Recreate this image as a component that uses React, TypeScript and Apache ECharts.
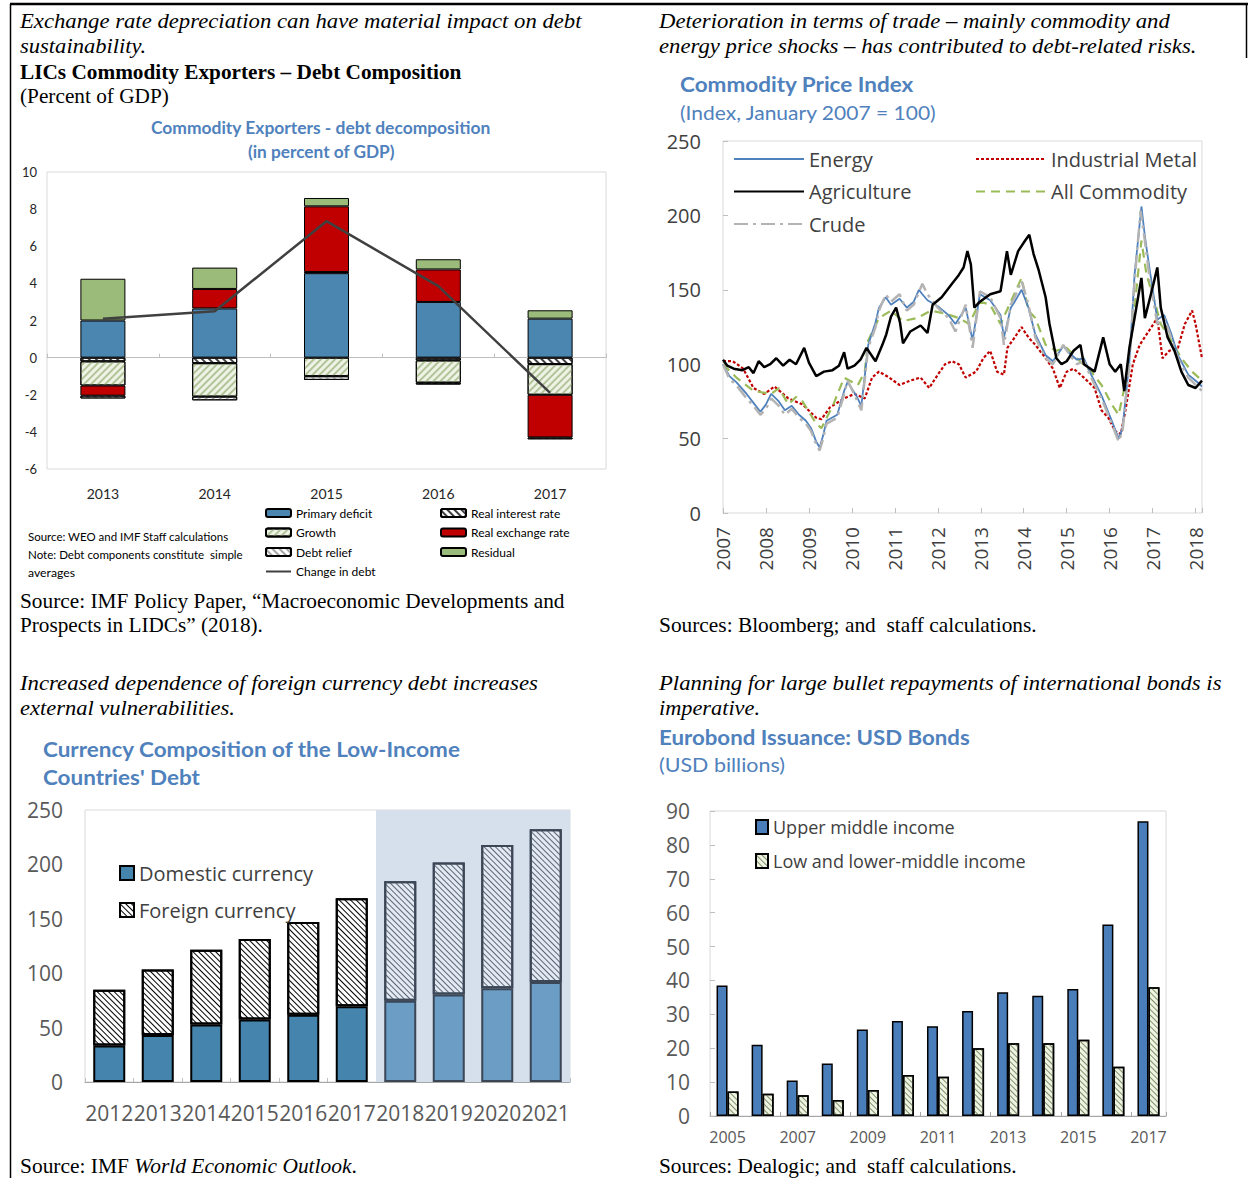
import React, { useEffect, useRef } from 'react';
import * as echarts from 'echarts';

const W = 1248;
const H = 1178;

// ---------- Panel 1: LICs Commodity Exporters – Debt Composition ----------
const debtYears = ['2013', '2014', '2015', '2016', '2017'];
const primaryDeficit = [2.0, 2.65, 4.55, 3.0, 2.1];
const realInterestRate = [-0.2, -0.3, 0.06, -0.15, -0.35];
const growth = [-1.3, -1.8, -1.0, -1.2, -1.65];
const realExchangeRate = [-0.55, 1.05, 3.54, 1.75, -2.3];
const debtRelief = [-0.15, -0.2, -0.2, -0.1, -0.1];
const residual = [2.25, 1.15, 0.45, 0.55, 0.45];
const changeInDebt = [2.1, 2.5, 7.35, 3.85, -1.9];

// ---------- Panel 2: Commodity Price Index (Jan 2007 = 100) ----------
const energy: [number, number][] = [
  [2007.0, 100], [2007.15, 92], [2007.31, 88], [2007.55, 80], [2007.71, 74], [2007.87, 68], [2008.0, 73], [2008.12, 80],
  [2008.3, 75], [2008.44, 69], [2008.6, 72], [2008.77, 66], [2008.93, 62], [2009.05, 57], [2009.17, 48], [2009.25, 44],
  [2009.33, 52], [2009.41, 62], [2009.66, 66], [2009.82, 82], [2009.9, 88], [2010.1, 79], [2010.22, 72], [2010.3, 92],
  [2010.38, 113], [2010.55, 128], [2010.63, 138], [2010.79, 145], [2010.91, 140], [2011.11, 144], [2011.28, 138],
  [2011.44, 142], [2011.56, 150], [2011.64, 147], [2011.76, 143], [2012.0, 139], [2012.25, 133], [2012.41, 127],
  [2012.65, 138], [2012.81, 116], [2012.98, 147], [2013.22, 143], [2013.46, 133], [2013.54, 118], [2013.7, 138],
  [2013.79, 142], [2013.95, 150], [2014.11, 138], [2014.27, 120], [2014.51, 106], [2014.68, 102], [2014.92, 112],
  [2015.08, 107], [2015.24, 103], [2015.4, 104], [2015.57, 93], [2015.81, 79], [2016.05, 62], [2016.21, 50],
  [2016.3, 57], [2016.46, 102], [2016.58, 160], [2016.74, 206], [2016.82, 186], [2016.94, 162], [2017.11, 130],
  [2017.27, 133], [2017.43, 121], [2017.59, 106], [2017.83, 93], [2018.08, 87], [2018.15, 85],
];
const agriculture: [number, number][] = [
  [2007.0, 103], [2007.1, 99], [2007.25, 97], [2007.45, 96], [2007.6, 98], [2007.71, 94], [2007.83, 102], [2007.96, 98],
  [2008.1, 100], [2008.24, 104], [2008.4, 99], [2008.55, 103], [2008.7, 100], [2008.89, 111], [2009.0, 101],
  [2009.17, 92], [2009.35, 95], [2009.55, 96], [2009.7, 99], [2009.82, 108], [2009.9, 97], [2010.06, 99],
  [2010.2, 103], [2010.34, 111], [2010.55, 102], [2010.71, 113], [2010.8, 120], [2010.91, 132], [2011.03, 138],
  [2011.12, 128], [2011.19, 114], [2011.36, 122], [2011.6, 126], [2011.76, 121], [2011.88, 140], [2012.09, 145],
  [2012.33, 154], [2012.49, 160], [2012.6, 165], [2012.69, 176], [2012.77, 167], [2012.85, 138], [2012.98, 142],
  [2013.22, 147], [2013.46, 149], [2013.61, 176], [2013.7, 160], [2013.87, 176], [2014.03, 183], [2014.13, 187],
  [2014.23, 174], [2014.35, 163], [2014.51, 145], [2014.6, 127], [2014.76, 104], [2014.88, 100], [2015.0, 102],
  [2015.16, 109], [2015.32, 113], [2015.4, 100], [2015.65, 95], [2015.85, 118], [2016.0, 100], [2016.13, 95],
  [2016.26, 100], [2016.34, 82], [2016.46, 111], [2016.58, 131], [2016.74, 158], [2016.82, 131], [2016.9, 140],
  [2017.02, 154], [2017.11, 165], [2017.19, 138], [2017.35, 118], [2017.51, 109], [2017.67, 95], [2017.83, 86],
  [2018.0, 84], [2018.15, 89],
];
const crude: [number, number][] = [
  [2007.0, 100], [2007.15, 90], [2007.31, 86], [2007.55, 77], [2007.71, 72], [2007.87, 66], [2008.0, 70], [2008.12, 77],
  [2008.3, 72], [2008.44, 66], [2008.6, 70], [2008.77, 64], [2008.93, 60], [2009.05, 55], [2009.17, 46], [2009.25, 42],
  [2009.33, 50], [2009.41, 60], [2009.66, 64], [2009.82, 80], [2009.9, 89], [2010.1, 77], [2010.22, 69], [2010.3, 90],
  [2010.38, 111], [2010.55, 125], [2010.63, 136], [2010.79, 147], [2010.91, 142], [2011.11, 147], [2011.28, 136],
  [2011.44, 140], [2011.64, 154], [2011.76, 147], [2012.0, 138], [2012.25, 131], [2012.41, 122], [2012.65, 140],
  [2012.81, 111], [2012.98, 149], [2013.22, 145], [2013.46, 131], [2013.54, 113], [2013.7, 140], [2013.79, 145],
  [2013.95, 156], [2014.11, 140], [2014.27, 118], [2014.51, 104], [2014.68, 100], [2014.92, 113], [2015.08, 106],
  [2015.24, 100], [2015.4, 102], [2015.57, 91], [2015.81, 77], [2016.05, 60], [2016.21, 48], [2016.3, 55],
  [2016.46, 100], [2016.58, 156], [2016.72, 203], [2016.82, 183], [2016.94, 156], [2017.11, 127], [2017.27, 131],
  [2017.43, 118], [2017.59, 104], [2017.83, 91], [2018.08, 84], [2018.15, 82],
];
const industrialMetal: [number, number][] = [
  [2007.0, 102], [2007.23, 102], [2007.47, 97], [2007.71, 84], [2007.96, 80], [2008.2, 85], [2008.52, 77], [2008.85, 73],
  [2009.17, 64], [2009.29, 63], [2009.49, 71], [2009.82, 77], [2010.06, 80], [2010.3, 77], [2010.47, 91], [2010.63, 95],
  [2010.87, 91], [2011.11, 86], [2011.36, 89], [2011.6, 91], [2011.8, 84], [2012.0, 93], [2012.17, 100], [2012.33, 102],
  [2012.49, 100], [2012.65, 91], [2012.89, 95], [2013.06, 104], [2013.22, 109], [2013.38, 95], [2013.54, 93],
  [2013.62, 111], [2013.79, 118], [2013.95, 125], [2014.11, 118], [2014.27, 113], [2014.51, 104], [2014.68, 97],
  [2014.84, 84], [2015.0, 95], [2015.16, 97], [2015.4, 91], [2015.65, 84], [2015.81, 69], [2015.97, 64], [2016.13, 55],
  [2016.26, 53], [2016.38, 71], [2016.54, 100], [2016.7, 113], [2016.86, 120], [2017.02, 127], [2017.11, 131],
  [2017.23, 104], [2017.39, 109], [2017.59, 111], [2017.75, 127], [2017.92, 136], [2018.0, 127], [2018.15, 104],
];
const allCommodity: [number, number][] = [
  [2007.0, 100], [2007.31, 91], [2007.71, 82], [2008.12, 80], [2008.3, 84], [2008.52, 73], [2008.7, 78], [2008.85, 75],
  [2009.17, 60], [2009.29, 57], [2009.57, 73], [2009.82, 91], [2010.14, 86], [2010.3, 95], [2010.38, 116], [2010.63, 131],
  [2010.91, 136], [2011.19, 129], [2011.52, 131], [2011.84, 136], [2012.17, 134], [2012.49, 131], [2012.73, 127],
  [2012.98, 142], [2013.22, 140], [2013.46, 127], [2013.7, 142], [2013.95, 158], [2014.11, 136], [2014.27, 131],
  [2014.51, 113], [2014.76, 109], [2015.0, 111], [2015.24, 104], [2015.57, 95], [2015.81, 86], [2016.05, 73],
  [2016.21, 66], [2016.38, 89], [2016.54, 127], [2016.74, 183], [2016.86, 160], [2017.02, 145], [2017.19, 127],
  [2017.43, 116], [2017.67, 104], [2017.92, 95], [2018.15, 89],
];
const priceYearStart = 2007;
const priceYearEnd = 2018.15;

// ---------- Panel 3: Currency composition ----------
const currencyYears = ['2012', '2013', '2014', '2015', '2016', '2017', '2018', '2019', '2020', '2021'];
const domesticCurrency = [33.6, 43.1, 52.9, 57.5, 61.7, 69.7, 74.6, 80.4, 86.2, 92];
const foreignCurrency = [51.1, 60.2, 68.7, 73.9, 85.3, 99.3, 110, 121.3, 131.7, 140.3];
const firstEstimateYear = '2018';

// ---------- Panel 4: Eurobond issuance ----------
const eurobondYears = ['2005', '2006', '2007', '2008', '2009', '2010', '2011', '2012', '2013', '2014', '2015', '2016', '2017'];
const upperMiddleIncome = [38.5, 21, 10.5, 15.5, 25.5, 28, 26.5, 31, 36.5, 35.5, 37.5, 56.5, 87];
const lowerMiddleIncome = [7.2, 6.6, 6.1, 4.7, 7.7, 12.1, 11.6, 20, 21.5, 21.5, 22.5, 14.5, 38];

// ---------- styling ----------
const SERIF = "'Liberation Serif', 'Times New Roman', serif";
const SANS = "'Open Sans', 'Noto Sans', sans-serif";
const CAL = "Lato, 'Open Sans', sans-serif";
const BLUE = '#4f81bd';

let measureCtx: CanvasRenderingContext2D | null = null;
function textWidth(text: string, font: string): number {
  if (!measureCtx) measureCtx = document.createElement('canvas').getContext('2d');
  if (!measureCtx) return 1;
  measureCtx.font = font;
  return measureCtx.measureText(text).width || 1;
}

function txt(x: number, y: number, text: string, font: string, fill: string, target?: number) {
  const sx = target ? target / textWidth(text, font) : 1;
  return {
    type: 'text',
    x,
    y,
    scaleX: sx,
    silent: true,
    style: { text, font, fill, align: 'left', verticalAlign: 'middle' },
  };
}

function stripes(color: string, dir: 1 | -1, gap = 3, width = 1) {
  return {
    symbol: 'rect',
    symbolSize: 1,
    color,
    dashArrayX: [1, 0],
    dashArrayY: [width, gap],
    rotation: (dir * Math.PI) / 4,
  };
}

const lineLegend = (name: string) => ({ name, itemStyle: { opacity: 0 } });

function buildOption(): any {
  const serifI = `italic 21px ${SERIF}`;
  const serifR = `21px ${SERIF}`;
  const serifB = `bold 21px ${SERIF}`;
  const titleB = `bold 21px ${CAL}`;
  const titleR = `20px ${CAL}`;
  const small = `12px ${CAL}`;

  const estIdx = currencyYears.indexOf(firstEstimateYear);

  const graphics: any[] = [
    { type: 'line', silent: true, shape: { x1: 10, y1: 4, x2: 1248, y2: 4 }, style: { stroke: '#000', lineWidth: 2.5 } },
    { type: 'line', silent: true, shape: { x1: 10.5, y1: 4, x2: 10.5, y2: 1178 }, style: { stroke: '#000', lineWidth: 1.5 } },
    { type: 'line', silent: true, shape: { x1: 1246.5, y1: 4, x2: 1246.5, y2: 58 }, style: { stroke: '#000', lineWidth: 1.5 } },
    // panel 1
    txt(20, 21, 'Exchange rate depreciation can have material impact on debt', serifI, '#000', 562),
    txt(20, 46, 'sustainability.', serifI, '#000', 126),
    txt(20, 72, 'LICs Commodity Exporters – Debt Composition', serifB, '#000', 442),
    txt(20, 96, '(Percent of GDP)', serifR, '#000', 149),
    txt(151, 128, 'Commodity Exporters - debt decomposition', `bold 17px ${CAL}`, BLUE, 340),
    txt(248, 152, '(in percent of GDP)', `bold 17px ${CAL}`, BLUE, 147),
    txt(28, 536, 'Source: WEO and IMF Staff calculations', small, '#000', 201),
    txt(28, 554, 'Note: Debt components constitute  simple', small, '#000', 215),
    txt(28, 573, 'averages', small, '#000', 47),
    txt(20, 601, 'Source: IMF Policy Paper, “Macroeconomic Developments and', serifR, '#000', 545),
    txt(20, 625, 'Prospects in LIDCs” (2018).', serifR, '#000', 243),
    // panel 2
    txt(659, 21, 'Deterioration in terms of trade – mainly commodity and', serifI, '#000', 511),
    txt(659, 46, 'energy price shocks – has contributed to debt-related risks.', serifI, '#000', 538),
    txt(680, 84, 'Commodity Price Index', titleB, BLUE, 234),
    txt(680, 112, '(Index, January 2007 = 100)', titleR, BLUE, 257),
    txt(659, 625, 'Sources: Bloomberg; and  staff calculations.', serifR, '#000', 378),
    // panel 3
    txt(20, 683, 'Increased dependence of foreign currency debt increases', serifI, '#000', 518),
    txt(20, 708, 'external vulnerabilities.', serifI, '#000', 215),
    txt(43, 749, 'Currency Composition of the Low-Income', titleB, BLUE, 418),
    txt(43, 777, "Countries' Debt", titleB, BLUE, 157),
    txt(380, 820, 'Staff Estimates', `18px ${SANS}`, '#000', 129),
    {
      type: 'text',
      x: 20,
      y: 1166,
      silent: true,
      scaleX: 337 / (textWidth('Source: IMF ', serifR) + textWidth('World Economic Outlook', serifI) + textWidth('.', serifR)),
      style: {
        text: '{a|Source: IMF }{b|World Economic Outlook}{a|.}',
        verticalAlign: 'middle',
        rich: {
          a: { font: serifR, fill: '#000' },
          b: { font: serifI, fill: '#000' },
        },
      },
    },
    // panel 4
    txt(659, 683, 'Planning for large bullet repayments of international bonds is', serifI, '#000', 563),
    txt(659, 708, 'imperative.', serifI, '#000', 101),
    txt(659, 737, 'Eurobond Issuance: USD Bonds', titleB, BLUE, 311),
    txt(659, 764, '(USD billions)', titleR, BLUE, 126),
    txt(659, 1166, 'Sources: Dealogic; and  staff calculations.', serifR, '#000', 358),
  ];

  const p1Bar = (name: string, data: number[], color: string, decal?: any) => ({
    name,
    type: 'bar',
    xAxisIndex: 0,
    yAxisIndex: 0,
    stack: 'debt',
    barWidth: 45,
    data,
    itemStyle: { color, borderColor: '#000', borderWidth: 1, decal },
  });

  const estDom = { color: '#6b9dc5', borderColor: '#3b4656', borderWidth: 2 };
  const estFor = { color: '#e3eaf3', borderColor: '#3b4656', borderWidth: 2, decal: stripes('#5b6574', 1, 3) };

  return {
    animation: false,
    backgroundColor: '#ffffff',
    textStyle: { fontFamily: SANS },
    graphic: { elements: graphics },
    grid: [
      { left: 47, top: 172, width: 559, height: 297, show: true, borderColor: '#d9d9d9', borderWidth: 1 },
      { left: 723, top: 141, width: 479, height: 372, show: true, borderColor: '#d9d9d9', borderWidth: 1 },
      { left: 85, top: 810, width: 485, height: 272, show: true, borderColor: '#d9d9d9', borderWidth: 1 },
      { left: 710, top: 811, width: 456, height: 305, show: true, borderColor: '#d9d9d9', borderWidth: 1 },
    ],
    xAxis: [
      {
        gridIndex: 0, type: 'category', data: debtYears, position: 'bottom',
        axisLine: { show: false, onZero: false }, axisTick: { show: false },
        axisLabel: { margin: 17, fontFamily: CAL, fontSize: 14, color: '#262626' },
      },
      {
        gridIndex: 0, type: 'category', data: debtYears, position: 'top',
        axisLine: { show: true, onZero: true, lineStyle: { color: '#bfbfbf', width: 1 } },
        axisTick: { show: true, inside: false, length: 4, lineStyle: { color: '#bfbfbf' } },
        axisLabel: { show: false },
      },
      {
        gridIndex: 1, type: 'value', min: priceYearStart, max: priceYearEnd, interval: 1,
        axisLine: { show: false }, splitLine: { show: false },
        axisTick: { show: true, inside: true, length: 5, lineStyle: { color: '#bfbfbf' } },
        axisLabel: {
          rotate: 90, margin: 14, fontFamily: SANS, fontSize: 19, color: '#404040',
          formatter: (v: number) => (Math.abs(v - Math.round(v)) < 1e-6 ? String(Math.round(v)) : ''),
        },
      },
      {
        gridIndex: 2, type: 'category', data: currencyYears,
        axisLine: { show: true, lineStyle: { color: '#a6a6a6' } },
        axisTick: { show: true, inside: true, length: 4, lineStyle: { color: '#bfbfbf' } },
        axisLabel: { interval: 0, margin: 20, fontFamily: SANS, fontSize: 21, color: '#595959' },
      },
      { gridIndex: 2, type: 'value', min: 0, max: currencyYears.length, show: false },
      {
        gridIndex: 3, type: 'category', data: eurobondYears,
        axisLine: { show: true, lineStyle: { color: '#a6a6a6' } },
        axisTick: { show: true, inside: true, length: 4, lineStyle: { color: '#a6a6a6' } },
        axisLabel: { interval: 1, margin: 13, fontFamily: SANS, fontSize: 16, color: '#595959' },
      },
    ],
    yAxis: [
      {
        gridIndex: 0, type: 'value', min: -6, max: 10, interval: 2,
        axisLine: { show: false }, axisTick: { show: false }, splitLine: { show: false },
        axisLabel: { margin: 10, fontFamily: CAL, fontSize: 13, color: '#262626' },
      },
      {
        gridIndex: 1, type: 'value', min: 0, max: 250, interval: 50,
        axisLine: { show: false }, splitLine: { show: false },
        axisTick: { show: true, inside: true, length: 5, lineStyle: { color: '#bfbfbf' } },
        axisLabel: { margin: 22, fontFamily: SANS, fontSize: 20, color: '#404040' },
      },
      {
        gridIndex: 2, type: 'value', min: 0, max: 250, interval: 50,
        axisLine: { show: false }, axisTick: { show: false }, splitLine: { show: false },
        axisLabel: { margin: 22, fontFamily: SANS, fontSize: 21, color: '#595959' },
      },
      {
        gridIndex: 3, type: 'value', min: 0, max: 90, interval: 10,
        axisLine: { show: false }, splitLine: { show: false },
        axisTick: { show: true, inside: true, length: 5, lineStyle: { color: '#bfbfbf' } },
        axisLabel: { margin: 20, fontFamily: SANS, fontSize: 21, color: '#595959' },
      },
    ],
    legend: [
      {
        left: 265, top: 506, orient: 'vertical', padding: 0, itemGap: 5.5, itemWidth: 25, itemHeight: 8,
        selectedMode: false,
        textStyle: { fontFamily: CAL, fontSize: 12, lineHeight: 14, color: '#000' },
        data: ['Primary deficit', 'Growth', 'Debt relief', lineLegend('Change in debt')],
      },
      {
        left: 440, top: 506, orient: 'vertical', padding: 0, itemGap: 5.5, itemWidth: 25, itemHeight: 8,
        selectedMode: false,
        textStyle: { fontFamily: CAL, fontSize: 12, lineHeight: 14, color: '#000' },
        data: ['Real interest rate', 'Real exchange rate', 'Residual'],
      },
      {
        left: 733, top: 149, orient: 'vertical', padding: 0, itemGap: 12.5, itemWidth: 70, itemHeight: 14,
        selectedMode: false,
        textStyle: { fontFamily: SANS, fontSize: 20, lineHeight: 20, color: '#404040' },
        data: [lineLegend('Energy'), lineLegend('Agriculture'), lineLegend('Crude')],
      },
      {
        left: 975, top: 149, orient: 'vertical', padding: 0, itemGap: 12.5, itemWidth: 70, itemHeight: 14,
        selectedMode: false,
        textStyle: { fontFamily: SANS, fontSize: 20, lineHeight: 20, color: '#404040' },
        data: [lineLegend('Industrial Metal'), lineLegend('All Commodity')],
      },
      {
        left: 119, top: 863, orient: 'vertical', padding: 0, itemGap: 17, itemWidth: 14, itemHeight: 14,
        icon: 'rect', selectedMode: false,
        textStyle: { fontFamily: SANS, fontSize: 20, lineHeight: 20, color: '#404040' },
        data: ['Domestic currency', 'Foreign currency'],
      },
      {
        left: 755, top: 818, orient: 'vertical', padding: 0, itemGap: 16, itemWidth: 12, itemHeight: 14,
        icon: 'rect', selectedMode: false,
        textStyle: { fontFamily: SANS, fontSize: 18, lineHeight: 18, color: '#404040' },
        data: ['Upper middle income', 'Low and lower-middle income'],
      },
    ],
    series: [
      // ---- panel 1
      p1Bar('Primary deficit', primaryDeficit, '#4b86b1'),
      p1Bar('Real interest rate', realInterestRate, '#ffffff', stripes('#404040', 1, 2.5, 1.2)),
      p1Bar('Growth', growth, '#eef3e5', stripes('#b3c49a', -1, 2.5, 1.2)),
      p1Bar('Real exchange rate', realExchangeRate, '#c00000'),
      p1Bar('Debt relief', debtRelief, '#ffffff', stripes('#a6a6a6', 1, 2.5, 1.2)),
      p1Bar('Residual', residual, '#9bbb7a'),
      {
        name: 'Change in debt', type: 'line', xAxisIndex: 0, yAxisIndex: 0, data: changeInDebt,
        symbol: 'none', z: 5, itemStyle: { color: '#404040' }, lineStyle: { color: '#404040', width: 2.5 },
      },
      // ---- panel 2
      {
        name: 'Industrial Metal', type: 'line', xAxisIndex: 2, yAxisIndex: 1, data: industrialMetal, symbol: 'none',
        itemStyle: { color: '#c00000' }, lineStyle: { color: '#c00000', width: 2.2, type: [3, 2] },
      },
      {
        name: 'All Commodity', type: 'line', xAxisIndex: 2, yAxisIndex: 1, data: allCommodity, symbol: 'none',
        itemStyle: { color: '#9bbb59' }, lineStyle: { color: '#9bbb59', width: 2.2, type: [9, 6] },
      },
      {
        name: 'Energy', type: 'line', xAxisIndex: 2, yAxisIndex: 1, data: energy, symbol: 'none',
        itemStyle: { color: '#4f81bd' }, lineStyle: { color: '#4f81bd', width: 1.8 },
      },
      {
        name: 'Crude', type: 'line', xAxisIndex: 2, yAxisIndex: 1, data: crude, symbol: 'none',
        itemStyle: { color: '#b3b3b3' }, lineStyle: { color: '#b3b3b3', width: 2.5, type: [14, 5, 3, 5] },
      },
      {
        name: 'Agriculture', type: 'line', xAxisIndex: 2, yAxisIndex: 1, data: agriculture, symbol: 'none',
        itemStyle: { color: '#000' }, lineStyle: { color: '#000', width: 2.5 },
      },
      // ---- panel 3
      {
        name: 'estimate band', type: 'line', xAxisIndex: 4, yAxisIndex: 2, data: [[estIdx, 0]], symbol: 'none',
        showSymbol: false, silent: true, z: 0, lineStyle: { width: 0 },
        markArea: {
          silent: true,
          itemStyle: { color: '#d6e0ed' },
          label: { show: false },
          data: [[{ xAxis: estIdx, yAxis: 250 }, { xAxis: currencyYears.length, yAxis: 0 }]],
        },
      },
      {
        name: 'Domestic currency', type: 'bar', xAxisIndex: 3, yAxisIndex: 2, stack: 'cur', barWidth: 32, z: 3,
        itemStyle: { color: '#4584ad', borderColor: '#000', borderWidth: 2 },
        data: domesticCurrency.map((v, i) => (i >= estIdx ? { value: v, itemStyle: estDom } : v)),
      },
      {
        name: 'Foreign currency', type: 'bar', xAxisIndex: 3, yAxisIndex: 2, stack: 'cur', barWidth: 32, z: 3,
        itemStyle: { color: '#ffffff', borderColor: '#000', borderWidth: 2, decal: stripes('#000', 1, 3) },
        data: foreignCurrency.map((v, i) => (i >= estIdx ? { value: v, itemStyle: estFor } : v)),
      },
      // ---- panel 4
      {
        name: 'Upper middle income', type: 'bar', xAxisIndex: 5, yAxisIndex: 3, barWidth: 11, barGap: '0%',
        itemStyle: { color: '#4a7ebb', borderColor: '#000', borderWidth: 1.5 },
        data: upperMiddleIncome,
      },
      {
        name: 'Low and lower-middle income', type: 'bar', xAxisIndex: 5, yAxisIndex: 3, barWidth: 11, barGap: '0%',
        itemStyle: { color: '#eef3e2', borderColor: '#000', borderWidth: 1.5, decal: stripes('#7f8f6a', 1, 3) },
        data: lowerMiddleIncome,
      },
    ],
  };
}

export default function App() {
  const ref = useRef<HTMLDivElement>(null);
  useEffect(() => {
    if (!ref.current) return;
    const chart = echarts.init(ref.current, null, { renderer: 'svg' });
    chart.setOption(buildOption());
    return () => chart.dispose();
  }, []);
  return (
    <div
      ref={ref}
      style={{ position: 'absolute', left: 0, top: 0, width: W, height: H, background: '#fff' }}
    />
  );
}
